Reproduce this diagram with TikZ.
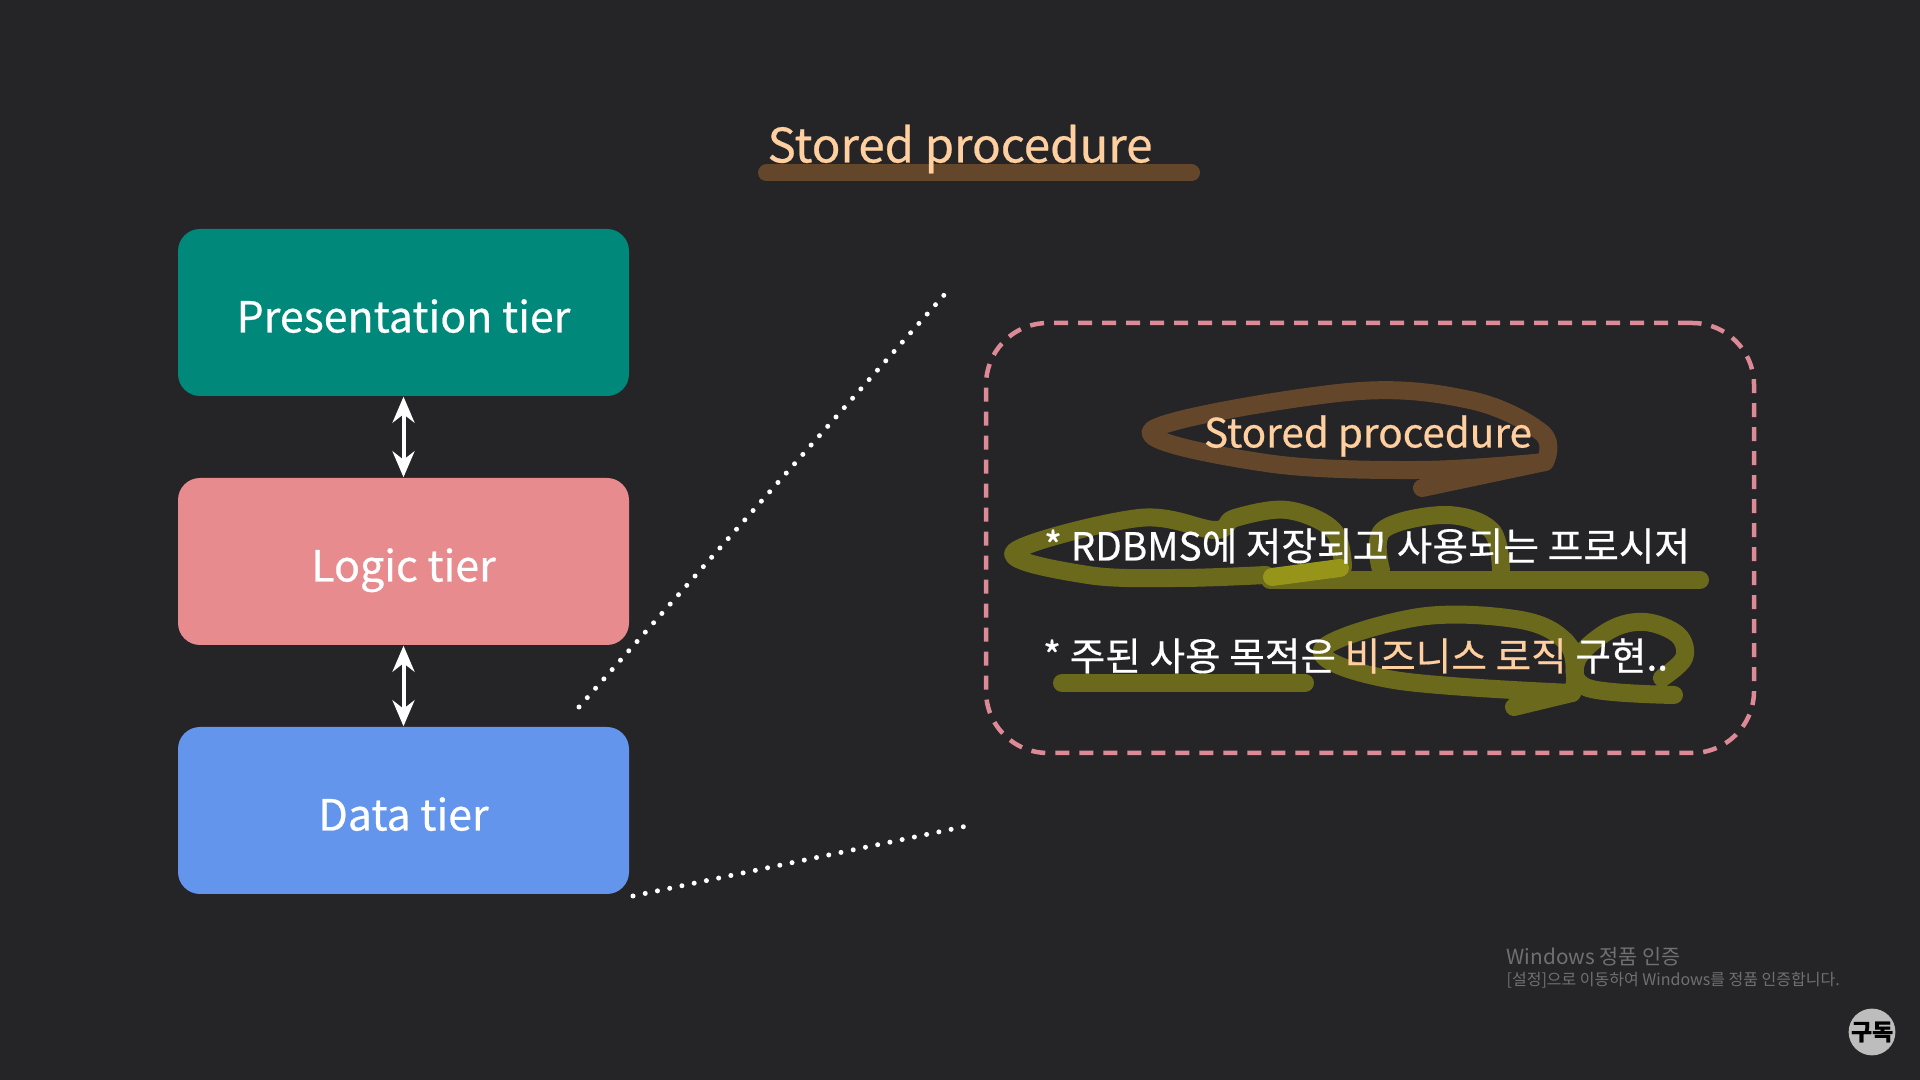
\documentclass[tikz,border=0pt]{standalone}
\usepackage{fontspec}
\setmainfont{Noto Sans CJK KR}[FakeBold=0.5]
\usepackage{tikz}
\usetikzlibrary{arrows.meta}
\definecolor{SlideBg}{HTML}{252427}
\definecolor{TierTeal}{HTML}{00897B}
\definecolor{TierPink}{HTML}{E88B8F}
\definecolor{TierBlue}{HTML}{6495ED}
\definecolor{ZoomDash}{HTML}{DB8A96}
\definecolor{PeachText}{HTML}{FFCFA0}
\definecolor{MarkBrown}{HTML}{64462A}
\definecolor{MarkOlive}{HTML}{6A691C}
\definecolor{MarkBright}{HTML}{96951A}
\definecolor{NoticeGray}{HTML}{707070}
\newfontfamily\noticefont{Noto Sans CJK KR}
\begin{document}
\begin{tikzpicture}[
    tier/.style={rounded corners=0.22cm, minimum width=4.51cm, minimum height=1.67cm,
      text height=0.52cm, text depth=0.12cm, text=white, font=\fontsize{12.2}{14}\selectfont},
    bothways/.style={{Stealth[length=0.26cm, width=0.22cm]}-{Stealth[length=0.26cm, width=0.22cm]},
      white, line width=0.04cm},
    dotline/.style={white, line width=0.05cm, line cap=round, dash pattern=on 0pt off 0.125cm},
    scribble/.style={line width=0.18cm, line cap=round, line join=round},
    bullet/.style={text=white, font=\fontsize{11}{14}\selectfont},
    notice/.style={text=NoticeGray, anchor=west, inner sep=0pt}
  ]
    \fill[SlideBg] (0, 0) rectangle (19.2, 10.8);
    \useasboundingbox (0, 0) rectangle (19.2, 10.8);

    \draw[MarkBrown, line width=0.17cm, line cap=round] (7.665, 9.07) -- (11.915, 9.07);
    \node[text=PeachText, font=\fontsize{13.5}{16}\selectfont] (title) at (9.60, 9.31) {Stored procedure};

    \node[tier, fill=TierTeal] (pres) at (4.035, 7.675) {Presentation tier};
    \node[tier, fill=TierPink] (logic) at (4.035, 5.185) {Logic tier};
    \node[tier, fill=TierBlue] (data) at (4.035, 2.695) {Data tier};
    \draw[bothways] (pres) -- (logic);
    \draw[bothways] (logic) -- (data);

    \coordinate (dotAfrom) at (5.79, 3.73);
    \coordinate (dotAto) at (9.45, 7.86);
    \coordinate (dotBfrom) at (6.33, 1.84);
    \coordinate (dotBto) at (9.67, 2.54);
    \draw[dotline] (dotAfrom) -- (dotAto);
    \draw[dotline] (dotBfrom) -- (dotBto);

    \node[draw=ZoomDash, line width=0.045cm, dash pattern=on 0.14cm off 0.1cm, rounded corners=0.62cm,
      minimum width=7.68cm, minimum height=4.30cm] (zoombox) at (13.70, 5.42) {};

    \draw[scribble, MarkBrown] plot[smooth, tension=0.6] coordinates {
      (15.45,6.18) (14.19,6.10) (12.66,6.17) (11.52,6.50) (13.48,6.88) (14.70,6.80) (15.42,6.47) (15.45,6.18)};
    \draw[scribble, MarkBrown] (15.45,6.18) -- (14.22,5.92);

    \draw[scribble, MarkOlive] plot[smooth, tension=0.6] coordinates {
      (12.66,5.05) (11.79,5.02) (10.88,5.05) (10.14,5.28) (11.39,5.62) (12.15,5.50) (12.35,5.62) (12.87,5.70) (13.33,5.50) (13.43,5.13)};
    \draw[scribble, MarkOlive] (12.70,5.00) -- (17.00,5.00);
    \draw[scribble, MarkOlive] plot[smooth, tension=0.6] coordinates {
      (13.81,5.10) (13.83,5.50) (14.45,5.65) (14.91,5.50) (15.01,5.10)};
    \draw[scribble, MarkBright] (13.40,5.12) -- (12.72,5.03);

    \draw[scribble, MarkOlive] (10.62, 3.97) -- (13.05, 3.97);
    \draw[scribble, MarkOlive] plot[smooth, tension=0.6] coordinates {
      (15.72,3.87) (13.94,4.00) (13.22,4.30) (14.19,4.63) (15.21,4.60) (15.67,4.37) (15.75,4.03) (15.72,3.87)};
    \draw[scribble, MarkOlive] (15.72,3.87) -- (15.14,3.73);
    \draw[scribble, MarkOlive] plot[smooth, tension=0.6] coordinates {
      (16.74,3.85) (15.88,3.92) (15.77,4.20) (16.10,4.50) (16.45,4.58) (16.78,4.45) (16.84,4.22) (16.62,4.02)};

    \node[text=PeachText, font=\fontsize{11.5}{14}\selectfont] (subtitle) at (13.68, 6.44) {Stored procedure};
    \node[bullet] (lineone) at (13.67, 5.34) {* RDBMS에 저장되고 사용되는 프로시저};
    \node[bullet] (linetwo) at (13.555, 4.24) {* 주된 사용 목적은 \textcolor{PeachText}{비즈니스 로직} 구현..};

    \node[notice, font=\noticefont\fontsize{5.9}{7}\selectfont] (noticeone) at (15.06, 1.23) {Windows 정품 인증};
    \node[notice, font=\noticefont\fontsize{4.55}{6}\selectfont] (noticetwo) at (15.06, 1.00) {[설정]으로 이동하여 Windows를 정품 인증합니다.};

    \node[circle, fill=black!26, minimum size=0.44cm, inner sep=0pt,
      font=\bfseries\fontsize{6.5}{8}\selectfont] (badge) at (18.72, 0.48) {구독};
\end{tikzpicture}
\end{document}
